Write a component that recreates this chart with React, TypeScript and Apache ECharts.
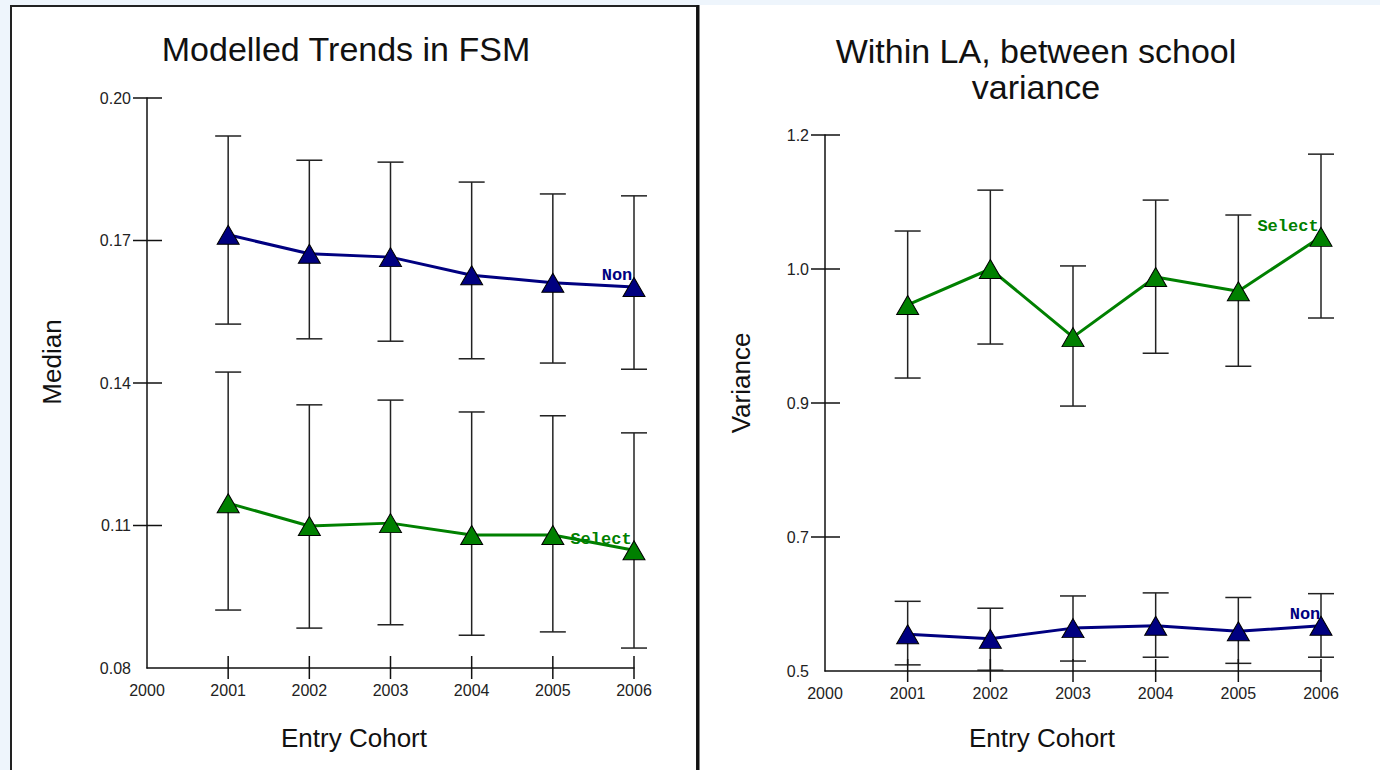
import React, { useEffect, useRef } from "react";
import * as echarts from "echarts";

const years = [2001, 2002, 2003, 2004, 2005, 2006];

// Left panel: Modelled Trends in FSM (Median)
const fsmNon = [0.1712, 0.1672, 0.1665, 0.1627, 0.1611, 0.1602];
const fsmNonLow = [0.1524, 0.1493, 0.1488, 0.1451, 0.1442, 0.1429];
const fsmNonHigh = [0.192, 0.1869, 0.1865, 0.1823, 0.1798, 0.1794];
const fsmSel = [0.1147, 0.1099, 0.1105, 0.108, 0.108, 0.1048];
const fsmSelLow = [0.0922, 0.0884, 0.0891, 0.0869, 0.0876, 0.0842];
const fsmSelHigh = [0.1423, 0.1354, 0.1364, 0.1339, 0.1331, 0.1295];

// Right panel: Within LA, between school variance
const varSel = [0.978, 1.025, 0.936, 1.0145, 0.996, 1.067];
const varSelLow = [0.8826, 0.927, 0.846, 0.915, 0.898, 0.961];
const varSelHigh = [1.0746, 1.128, 1.029, 1.115, 1.0955, 1.175];
const varNon = [0.548, 0.542, 0.556, 0.559, 0.552, 0.559];
const varNonLow = [0.508, 0.501, 0.513, 0.518, 0.51, 0.518];
const varNonHigh = [0.591, 0.582, 0.598, 0.602, 0.596, 0.601];

const leftTicks = [0.08, 0.11, 0.14, 0.17, 0.2];
const rightTicks = [0.5, 0.675, 0.85, 1.025, 1.2];
const xTicks = [2000, 2001, 2002, 2003, 2004, 2005, 2006];

const NAVY = "#000080";
const GREEN = "#008000";
const SANS = "Liberation Sans, Arial, sans-serif";
const MONO = "Liberation Mono, Courier New, monospace";

function errorSeries(xi: number, yi: number, lo: number[], hi: number[]) {
  return {
    type: "custom",
    xAxisIndex: xi,
    yAxisIndex: yi,
    z: 1,
    silent: true,
    encode: { x: 0, y: [1, 2] },
    data: years.map((y, i) => [y, lo[i], hi[i]]),
    renderItem: (params: any, api: any) => {
      const x = api.value(0);
      const a = api.coord([x, api.value(1)]);
      const b = api.coord([x, api.value(2)]);
      const w = 13;
      const style = { stroke: "#222", lineWidth: 1.5 };
      return {
        type: "group",
        children: [
          { type: "line", shape: { x1: a[0], y1: a[1], x2: b[0], y2: b[1] }, style },
          { type: "line", shape: { x1: a[0] - w, y1: a[1], x2: a[0] + w, y2: a[1] }, style },
          { type: "line", shape: { x1: b[0] - w, y1: b[1], x2: b[0] + w, y2: b[1] }, style },
        ],
      };
    },
  };
}

// Tick marks that cross the axis lines (both sides)
function tickSeries(xi: number, yi: number, yTicks: number[]) {
  const yMin = yTicks[0];
  const data: number[][] = [
    ...yTicks.slice(1).map((v) => [2000, v, 0]),
    ...years.map((yr) => [yr, yMin, 1]),
  ];
  return {
    type: "custom",
    xAxisIndex: xi,
    yAxisIndex: yi,
    z: 3,
    silent: true,
    clip: false,
    encode: { x: 0, y: 1 },
    data,
    renderItem: (params: any, api: any) => {
      const p = api.coord([api.value(0), api.value(1)]);
      const style = { stroke: "#111", lineWidth: 1.5 };
      if (api.value(2) === 0) {
        return { type: "line", shape: { x1: p[0] - 14, y1: p[1], x2: p[0] + 15, y2: p[1] }, style };
      }
      return { type: "line", shape: { x1: p[0], y1: p[1] - 12, x2: p[0], y2: p[1] + 11 }, style };
    },
  };
}

function lineSeries(xi: number, yi: number, vals: number[], color: string, name: string, offset: number[]) {
  return {
    type: "line",
    name,
    xAxisIndex: xi,
    yAxisIndex: yi,
    z: 5,
    symbol: "triangle",
    symbolSize: [22, 19],
    itemStyle: { color, borderColor: "#000", borderWidth: 1 },
    lineStyle: { color, width: 3 },
    data: years.map((y, i) =>
      i === years.length - 1
        ? {
            value: [y, vals[i]],
            label: {
              show: true,
              formatter: name,
              position: "top",
              distance: 0,
              offset,
              color,
              fontWeight: "bold",
              fontFamily: MONO,
              fontSize: 17,
            },
          }
        : [y, vals[i]]
    ),
  };
}

function xAxis(grid: number) {
  return {
    type: "value",
    gridIndex: grid,
    min: 2000,
    max: 2006,
    position: "bottom",
    splitLine: { show: false },
    axisLine: { show: true, onZero: false, lineStyle: { color: "#111", width: 1.5 } },
    axisTick: { show: false },
    axisLabel: {
      show: true,
      customValues: xTicks,
      margin: 14,
      color: "#222",
      fontSize: 16,
      fontFamily: SANS,
      formatter: (v: number) => String(Math.round(v)),
    },
  };
}

function yAxis(grid: number, ticks: number[], digits: number) {
  return {
    type: "value",
    gridIndex: grid,
    min: ticks[0],
    max: ticks[ticks.length - 1],
    position: "left",
    splitLine: { show: false },
    axisLine: { show: true, onZero: false, lineStyle: { color: "#111", width: 1.5 } },
    axisTick: { show: false },
    axisLabel: {
      show: true,
      customValues: ticks,
      margin: 16,
      color: "#222",
      fontSize: 16,
      fontFamily: SANS,
      formatter: (v: number) =>
        (Math.round(v * Math.pow(10, digits) + 1e-6) / Math.pow(10, digits)).toFixed(digits),
    },
  };
}

export default function App() {
  const ref = useRef<HTMLDivElement>(null);

  useEffect(() => {
    if (!ref.current) return;
    const chart = echarts.init(ref.current, null, { renderer: "svg" });
    const titleStyle = {
      fill: "#111",
      fontSize: 34,
      fontFamily: SANS,
      textAlign: "center",
      textVerticalAlign: "middle",
    };
    const nameStyle = {
      fill: "#111",
      fontSize: 26,
      fontFamily: SANS,
      textAlign: "center",
      textVerticalAlign: "middle",
    };
    chart.setOption({
      animation: false,
      backgroundColor: "#eef5fc",
      grid: [
        { left: 147, top: 98, width: 487, height: 570 },
        { left: 825, top: 135, width: 496, height: 536 },
      ],
      xAxis: [xAxis(0), xAxis(1)],
      yAxis: [yAxis(0, leftTicks, 2), yAxis(1, rightTicks, 1)],
      graphic: [
        {
          type: "rect",
          z: -10,
          silent: true,
          shape: { x: 11, y: 6, width: 686, height: 800 },
          style: { fill: "#fff", stroke: "#222", lineWidth: 2 },
        },
        {
          type: "rect",
          z: -10,
          silent: true,
          shape: { x: 699, y: 5, width: 700, height: 800 },
          style: { fill: "#fff" },
        },
        {
          type: "line",
          z: -5,
          silent: true,
          shape: { x1: 698, y1: 5, x2: 698, y2: 770 },
          style: { stroke: "#111", lineWidth: 3 },
        },
        { type: "text", x: 346, y: 49, style: { ...titleStyle, text: "Modelled Trends in FSM" } },
        { type: "text", x: 1036, y: 51, style: { ...titleStyle, text: "Within LA, between school" } },
        { type: "text", x: 1036, y: 87, style: { ...titleStyle, text: "variance" } },
        { type: "text", x: 354, y: 738, style: { ...nameStyle, text: "Entry Cohort" } },
        { type: "text", x: 1042, y: 738, style: { ...nameStyle, text: "Entry Cohort" } },
        { type: "text", x: 52, y: 362, rotation: Math.PI / 2, style: { ...nameStyle, text: "Median" } },
        { type: "text", x: 741, y: 383, rotation: Math.PI / 2, style: { ...nameStyle, text: "Variance" } },
      ],
      series: [
        tickSeries(0, 0, leftTicks),
        errorSeries(0, 0, fsmNonLow, fsmNonHigh),
        errorSeries(0, 0, fsmSelLow, fsmSelHigh),
        lineSeries(0, 0, fsmNon, NAVY, "Non", [-17, 7]),
        lineSeries(0, 0, fsmSel, GREEN, "Select", [-33, 8]),
        tickSeries(1, 1, rightTicks),
        errorSeries(1, 1, varSelLow, varSelHigh),
        errorSeries(1, 1, varNonLow, varNonHigh),
        lineSeries(1, 1, varSel, GREEN, "Select", [-33, 8]),
        lineSeries(1, 1, varNon, NAVY, "Non", [-16, 7]),
      ],
    });
    return () => chart.dispose();
  }, []);

  return (
    <div
      ref={ref}
      style={{ position: "absolute", left: 0, top: 0, width: 1380, height: 770 }}
    />
  );
}
